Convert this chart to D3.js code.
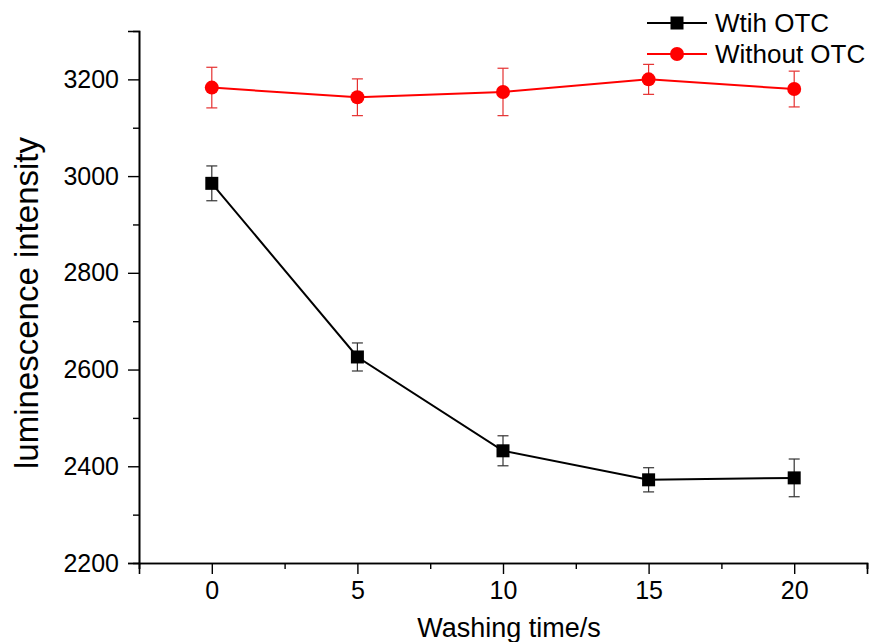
<!DOCTYPE html>
<html lang="en">
<head>
    <meta charset="UTF-8">
    <title>Washing time</title>
    <script src="https://cdn.jsdelivr.net/npm/d3@7"></script>
    <style>
        body { margin: 0; background: #fff; }
        svg { display: block; font-family: "Liberation Sans", Arial, sans-serif; }
    </style>
</head>
<body>
    <svg width="869" height="642"></svg>
    <script>
        // data
        var times = [0, 5, 10, 15, 20];
        var withOTC = [2985, 2626, 2432, 2372, 2376];
        var withOTCErr = [36, 29, 31, 25, 39];
        var withoutOTC = [3183, 3163, 3174, 3200, 3180];
        var withoutOTCErr = [42, 38, 49, 31, 37];
        var yTicks = [2200, 2400, 2600, 2800, 3000, 3200];
        var xTicks = [0, 5, 10, 15, 20];

        var svg = d3.select('svg');

        var x = d3.scaleLinear().domain([-2.5, 22.5]).range([139, 867]);
        var y = d3.scaleLinear().domain([2200, 3300]).range([563, 31]);

        // axes
        var xAxis = d3.axisBottom(x).tickValues(xTicks).tickSize(11).tickPadding(7).tickFormat(d3.format('d'));
        var xMinor = d3.axisBottom(x).tickValues(d3.range(-2.5, 22.6, 2.5).filter(function (d) { return d % 5 !== 0; }))
            .tickSize(6).tickFormat('');
        var yAxis = d3.axisLeft(y).tickValues(yTicks).tickSize(11).tickPadding(9).tickFormat(d3.format('d'));
        var yMinor = d3.axisLeft(y).tickValues([2300, 2500, 2700, 2900, 3100]).tickSize(6).tickFormat('');

        function styleAxis(g) {
            g.selectAll('path').attr('stroke', '#000').attr('stroke-width', 1.6);
            g.selectAll('line').attr('stroke', '#000').attr('stroke-width', 1.4);
            g.selectAll('text').attr('fill', '#000').style('font-size', '25px');
        }

        svg.append('g').attr('transform', 'translate(0,563)').call(xMinor).call(styleAxis);
        svg.append('g').attr('transform', 'translate(0,563)').call(xAxis).call(styleAxis);
        svg.append('g').attr('transform', 'translate(139,0)').call(yMinor).call(styleAxis);
        svg.append('g').attr('transform', 'translate(139,0)').call(yAxis).call(styleAxis);

        // axis titles
        svg.append('text')
            .attr('x', x(10) + 6).attr('y', 637)
            .attr('text-anchor', 'middle')
            .style('font-size', '27px')
            .text('Washing time/s');

        svg.append('text')
            .attr('transform', 'translate(38,' + ((y(2200) + y(3300)) / 2 + 6) + ') rotate(-90)')
            .attr('text-anchor', 'middle')
            .style('font-size', '33px')
            .text('luminescence intensity');

        var series = [
            { name: 'Wtih OTC', values: withOTC, err: withOTCErr, color: '#000', errColor: '#333', shape: 'square' },
            { name: 'Without OTC', values: withoutOTC, err: withoutOTCErr, color: '#ff0000', errColor: '#e53030', shape: 'circle' }
        ];

        var line = d3.line()
            .x(function (d, i) { return x(times[i]); })
            .y(function (d) { return y(d); });

        series.forEach(function (s) {
            var g = svg.append('g');

            // error bars
            var eb = g.selectAll('.eb').data(s.values).enter().append('g');
            eb.append('line')
                .attr('x1', function (d, i) { return x(times[i]); })
                .attr('x2', function (d, i) { return x(times[i]); })
                .attr('y1', function (d, i) { return y(d - s.err[i]); })
                .attr('y2', function (d, i) { return y(d + s.err[i]); })
                .attr('stroke', s.errColor).attr('stroke-width', 1.2);
            [-1, 1].forEach(function (sign) {
                eb.append('line')
                    .attr('x1', function (d, i) { return x(times[i]) - 5.5; })
                    .attr('x2', function (d, i) { return x(times[i]) + 5.5; })
                    .attr('y1', function (d, i) { return y(d + sign * s.err[i]); })
                    .attr('y2', function (d, i) { return y(d + sign * s.err[i]); })
                    .attr('stroke', s.errColor).attr('stroke-width', 1.2);
            });

            g.append('path')
                .datum(s.values)
                .attr('d', line)
                .attr('fill', 'none')
                .attr('stroke', s.color)
                .attr('stroke-width', 2);

            if (s.shape === 'square') {
                g.selectAll('rect').data(s.values).enter().append('rect')
                    .attr('x', function (d, i) { return x(times[i]) - 6.5; })
                    .attr('y', function (d) { return y(d) - 6.5; })
                    .attr('width', 13).attr('height', 13)
                    .attr('fill', s.color);
            } else {
                g.selectAll('circle').data(s.values).enter().append('circle')
                    .attr('cx', function (d, i) { return x(times[i]); })
                    .attr('cy', function (d) { return y(d); })
                    .attr('r', 7)
                    .attr('fill', s.color);
            }
        });

        // legend
        var legend = svg.append('g');
        series.forEach(function (s, i) {
            var ly = 23 + i * 31;
            legend.append('line')
                .attr('x1', 647).attr('x2', 707).attr('y1', ly).attr('y2', ly)
                .attr('stroke', s.color).attr('stroke-width', 2);
            if (s.shape === 'square') {
                legend.append('rect').attr('x', 677 - 6.5).attr('y', ly - 6.5)
                    .attr('width', 13).attr('height', 13).attr('fill', s.color);
            } else {
                legend.append('circle').attr('cx', 677).attr('cy', ly).attr('r', 7).attr('fill', s.color);
            }
            legend.append('text')
                .attr('x', 715).attr('y', ly + 9)
                .style('font-size', '26px')
                .text(s.name);
        });
    </script>
</body>
</html>
